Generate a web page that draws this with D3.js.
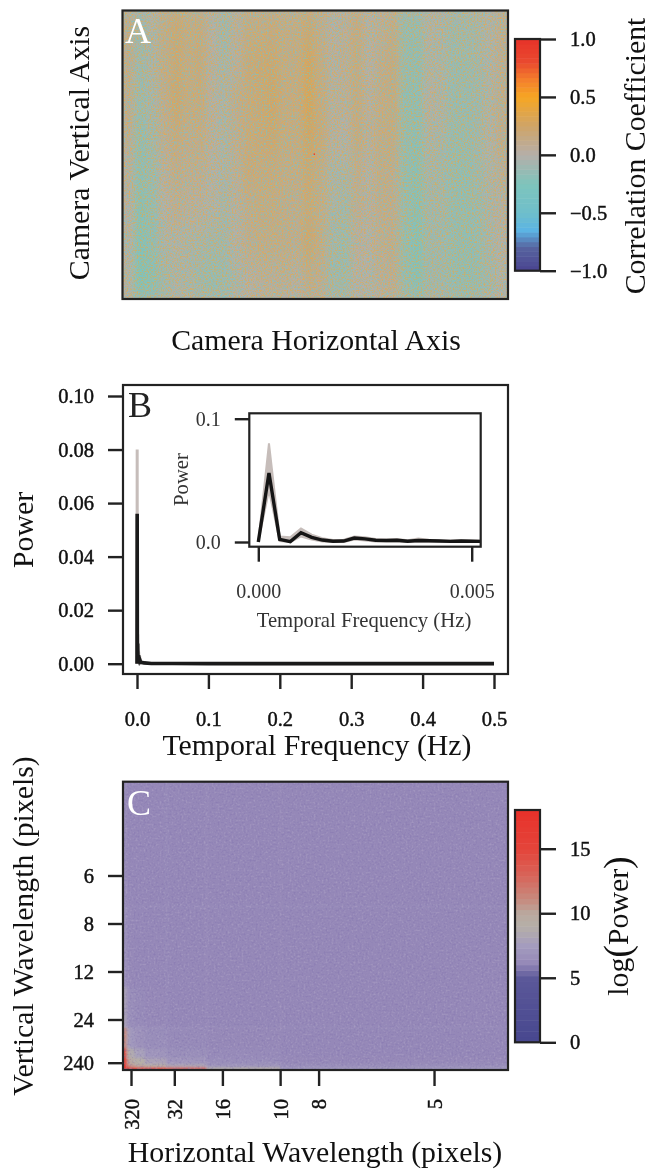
<!DOCTYPE html>
<html><head><meta charset="utf-8">
<style>
html,body{margin:0;padding:0;background:#fff}
svg{display:block;filter:blur(0.35px)}
text{font-family:"Liberation Serif","Times New Roman",serif;fill:#111}
.tick text{font-size:20.5px;stroke:#111;stroke-width:.45px}
.inset .tick text{font-size:20px;fill:#333;stroke:none}
.title{font-size:29.8px}
.inset .title{font-size:20.7px;fill:#333}
</style>
<script src="https://cdn.jsdelivr.net/npm/d3@7/dist/d3.min.js"></script>
</head><body>
<script>
// ---------- Panel A data: correlation (rows top to bottom, columns left to right)
const corrRows = [
[.08,-.08,-.03,.10,.18,.12,.14,.0,-.08,.02,.12,.12,.13,.10,.10,.18,.08,.0,.04,.14,.0,.05,.10,-.14,-.14,-.02,-.04,-.1,-.09,-.07,-.02,.05],
[.08,-.1,-.04,.10,.18,.12,.15,.02,-.06,.03,.16,.18,.2,.12,.12,.26,.12,.02,.04,.12,.0,.08,.13,-.13,-.16,-.03,-.05,-.12,-.12,-.08,-.02,.06],
[.06,-.12,-.06,.08,.2,.12,.14,.02,-.04,.08,.14,.18,.22,.14,.14,.3,.14,.03,.03,.14,.02,.1,.14,-.16,-.17,.02,-.04,-.12,-.13,-.1,-.03,.07],
[.06,-.15,-.08,.06,.14,.08,.1,.02,-.04,.06,.14,.16,.2,.12,.12,.24,.16,.02,.0,.12,.04,.1,.12,-.14,-.18,-.04,-.06,-.13,-.13,-.1,-.01,.08],
[.02,-.17,-.12,.02,.08,.06,.06,.0,-.04,.04,.15,.13,.13,.1,.1,.18,.1,-.04,-.06,.08,.0,.1,.08,-.16,-.2,-.06,-.08,-.14,-.15,-.1,-.03,.04],
[.0,-.2,-.14,.0,.06,.02,.02,-.02,-.06,.02,.08,.12,.12,.1,.08,.16,.1,-.06,-.08,.06,.02,.08,.08,-.14,-.2,-.08,-.08,-.14,-.15,-.12,-.04,.02],
[-.02,-.22,-.16,-.04,-.02,-.04,-.06,-.08,-.08,.0,.08,.1,.1,.1,.08,.2,.1,-.08,-.12,.02,.0,.06,.08,-.15,-.22,-.1,-.1,-.14,-.16,-.14,-.06,.0],
[-.02,-.24,-.2,-.1,-.04,-.06,-.1,-.14,-.12,-.06,.0,.04,.04,.05,.02,.1,.06,-.1,-.12,.0,-.02,.04,.06,-.14,-.22,-.08,-.1,-.14,-.16,-.14,-.08,-.02]
];
const corrPeak = {x:.4975, y:.498, r:1.0};
const corrTicks = [-1,-.5,0,.5,1];
const corrStops = [-1,-.8,-.65,-.5,-.25,0,.25,.5,.65,.8,1];
const corrColors = ["#4A4490","#57639F","#5BB4E4","#6FBFCB","#7EC4BC","#B5AFA9","#CFA468","#F6A623","#F47F2C","#E9492F","#E73329"];

// ---------- Panel B data: power spectrum
const inFreq = [0,.00025,.0005,.00075,.001,.00125,.0015,.00175,.002,.00225,.0025,.00275,.003,.00325,.0035,.00375,.004,.00425,.0045,.00475,.005,.00525];
const inMean = [0,.056,.0022,.0003,.0075,.0038,.0016,.0006,.0008,.0032,.0025,.0014,.0012,.0014,.0006,.0012,.001,.0008,.0005,.0008,.0006,.0005];
const inUpper = [0,.08,.0045,.0038,.011,.006,.003,.0016,.0018,.0045,.0038,.0024,.002,.0024,.0014,.0028,.0018,.0014,.0012,.0014,.0012,.001];
const inLower = [0,.042,.0008,0,.0045,.002,.0005,0,0,.002,.0012,.0005,.0004,.0005,0,.0004,.0002,.0002,0,.0002,0,0];
const tailFreq = [.006,.008,.01,.02,.05,.1,.2,.3,.4,.5];
const tailPower = [.0005,.0004,.0003,.0001,.00005,.00003,.00002,.00001,.00001,.00001];
const powerTicks = [0,.02,.04,.06,.08,.1];
const freqTicks = [0,.1,.2,.3,.4,.5];
const insetYTicks = [0,.1];
const insetXTicks = [0,.005];

// ---------- Panel C data: log power on frequency bins (rows bottom to top)
const binsX = [-.006,.0003,.0022,.0055,.012,.026,.052,.10,.26];
const binsY = [-.006,.0005,.0035,.0087,.017,.035,.07,.14,.26];
const logPower = [
[17,17,16.5,15.5,14.5,13,9,7.2],
[15.5,11.5,10.5,9.8,9.2,8.2,7,6.5],
[15,10.5,9.6,9,8,7.1,6.5,6.2],
[14,9.2,8.6,7.8,7,6.6,6.3,6.1],
[11,8,7.2,6.8,6.5,6.3,6.2,6.1],
[8,6.8,6.5,6.3,6.2,6.1,6.1,6.1],
[6.8,6.3,6.2,6.1,6.1,6.1,6.1,6.1],
[6.5,6.2,6.1,6.1,6.1,6.1,6.1,6.1]
];
const horizWave = [320,32,16,10,8,5];
const vertWave = [6,8,12,24,240];
const logTicks = [0,5,10,15];
const logStops = [0,5,6.1,7.5,9,10,11,13,15,18];
const logColors = ["#47478F","#5B5899","#9588B8","#A49CBE","#B5AFA8","#B9A89E","#C68C80","#D86358","#E4443A","#E8312A"];

// ---------- layout
const svg = d3.select("body").append("svg").attr("width",651).attr("height",1172);
const defs = svg.append("defs");
const frameA = {l:122.5,r:508,t:10.5,b:299};
const frameB = {l:123,r:508,t:385,b:674};
const frameI = {l:249.3,r:480.7,t:413.3,b:546.7};
const frameC = {l:123,r:508,t:781.7,b:1070};
const INK = "#222";

function noiseFilter(id, rgb, k, off, freq, seed){
  const f = defs.append("filter").attr("id",id).attr("x",0).attr("y",0).attr("width",1).attr("height",1)
    .attr("color-interpolation-filters","sRGB");
  f.append("feTurbulence").attr("type","fractalNoise").attr("baseFrequency",freq).attr("numOctaves",2).attr("seed",seed);
  f.append("feColorMatrix").attr("type","matrix")
    .attr("values",`0 0 0 0 ${rgb[0]} 0 0 0 0 ${rgb[1]} 0 0 0 0 ${rgb[2]} 0 ${k} 0 0 ${off}`);
}
function clip(id, fr){
  defs.append("clipPath").attr("id",id).append("rect")
    .attr("x",fr.l).attr("y",fr.t).attr("width",fr.r-fr.l).attr("height",fr.b-fr.t);
}
function frame(g, fr){
  g.append("rect").attr("x",fr.l).attr("y",fr.t).attr("width",fr.r-fr.l).attr("height",fr.b-fr.t)
    .attr("fill","none").attr("stroke",INK).attr("stroke-width",2.2);
}
function styleAxis(sel){
  sel.select(".domain").remove();
  sel.selectAll(".tick line").attr("stroke",INK).attr("stroke-width",2.4);
}
function vTitle(x,y,t,g){ return (g||svg).append("text").attr("class","title").attr("text-anchor","middle")
  .attr("transform",`translate(${x},${y}) rotate(-90)`).text(t); }
function hTitle(x,y,t,g){ return (g||svg).append("text").attr("class","title").attr("text-anchor","middle")
  .attr("x",x).attr("y",y).text(t); }
function panelLetter(x,y,t,c){ svg.append("text").attr("x",x).attr("y",y).attr("font-size",36).style("fill",c).text(t); }
function colorbar(x0,x1,y0,y1,domain,color,ticks,fmt,levels){
  const s = d3.scaleLinear().domain(domain).range([y0,y1]);
  const g = svg.append("g");
  const dv = (domain[1]-domain[0])/levels;
  g.selectAll("rect").data(d3.range(levels)).join("rect")
    .attr("x",x0).attr("width",x1-x0)
    .attr("y",i=>s(domain[0]+(i+1)*dv)).attr("height",i=>s(domain[0]+i*dv)-s(domain[0]+(i+1)*dv)+.5)
    .attr("fill",i=>color(domain[0]+(i+.5)*dv));
  g.append("rect").attr("x",x0).attr("y",y1).attr("width",x1-x0).attr("height",y0-y1)
    .attr("fill","none").attr("stroke",INK).attr("stroke-width",2.2);
  svg.append("g").attr("transform",`translate(${x1},0)`)
    .call(d3.axisRight(s).tickValues(ticks).tickFormat(fmt).tickSize(16).tickPadding(14)).call(styleAxis);
}

// ---------- Panel A
const colorA = d3.scaleLinear().domain(corrStops).range(corrColors).clamp(true);
const xA = d3.scaleBand().domain(d3.range(corrRows[0].length)).range([frameA.l,frameA.r]);
const yA = d3.scaleBand().domain(d3.range(corrRows.length)).range([frameA.t,frameA.b]);
clip("clipA",frameA);
defs.append("filter").attr("id","softA").attr("x","-5%").attr("y","-5%").attr("width","110%").attr("height","110%")
  .append("feGaussianBlur").attr("stdDeviation","3 12");
noiseFilter("nTeal",[.47,.78,.77],4.6,-2.2,.62,3);
noiseFilter("nOrange",[.92,.66,.26],4.6,-2.2,.62,11);
const gA = svg.append("g").attr("clip-path","url(#clipA)");
gA.append("rect").attr("x",frameA.l).attr("y",frameA.t).attr("width",frameA.r-frameA.l).attr("height",frameA.b-frameA.t).attr("fill",colorA(0));
gA.append("g").attr("filter","url(#softA)")
  .selectAll("g").data(corrRows).join("g")
  .selectAll("rect").data((r,j)=>r.map((v,i)=>({v,i,j}))).join("rect")
  .attr("x",d=>xA(d.i)-.5).attr("y",d=>yA(d.j)-.5)
  .attr("width",xA.bandwidth()+1).attr("height",yA.bandwidth()+1)
  .attr("fill",d=>colorA(d.v));
gA.append("rect").attr("x",frameA.l).attr("y",frameA.t).attr("width",frameA.r-frameA.l).attr("height",frameA.b-frameA.t).attr("filter","url(#nTeal)").attr("opacity",.6);
gA.append("rect").attr("x",frameA.l).attr("y",frameA.t).attr("width",frameA.r-frameA.l).attr("height",frameA.b-frameA.t).attr("filter","url(#nOrange)").attr("opacity",.6);
const fxA = d3.scaleLinear().domain([0,1]).range([frameA.l,frameA.r]);
const fyA = d3.scaleLinear().domain([0,1]).range([frameA.t,frameA.b]);
gA.append("rect").attr("x",fxA(corrPeak.x)-.7).attr("y",fyA(corrPeak.y)-.7).attr("width",1.4).attr("height",1.4).attr("fill",colorA(corrPeak.r));
frame(svg,frameA);
panelLetter(125,43,"A","#fff");
colorbar(515,540,270.7,39,[-1,1],colorA,corrTicks,d=>d3.format(".1f")(d).replace("-","\u2212"),48);
vTitle(89,153,"Camera Vertical Axis");
hTitle(316,350,"Camera Horizontal Axis");
vTitle(644.5,156,"Correlation Coefficient");

// ---------- Panel B
const xB = d3.scaleLinear().domain([0,.5]).range([137,494]);
const yB = d3.scaleLinear().domain([0,.1]).range([663.7,396]);
const allFreq = inFreq.concat(tailFreq);
const lineB = d3.line().x(d=>xB(d[0])).y(d=>yB(d[1]));
frame(svg,frameB);
svg.append("path").datum(allFreq.map((f,i)=>[f,i<inUpper.length?inUpper[i]:tailPower[i-inUpper.length]]))
  .attr("d",lineB).attr("fill","none").attr("stroke","#C6BDBA").attr("stroke-width",3);
svg.append("path").datum(allFreq.map((f,i)=>[f,i<inMean.length?inMean[i]:tailPower[i-inMean.length]]))
  .attr("d",lineB).attr("fill","none").attr("stroke","#1a1a1a").attr("stroke-width",3.6).attr("stroke-linejoin","miter");
svg.append("g").attr("transform",`translate(${frameB.l},0)`)
  .call(d3.axisLeft(yB).tickValues(powerTicks).tickFormat(d3.format(".2f")).tickSize(15).tickPadding(14)).call(styleAxis);
svg.append("g").attr("transform",`translate(0,${frameB.b})`)
  .call(d3.axisBottom(xB).tickValues(freqTicks).tickFormat(d3.format(".1f")).tickSize(15).tickPadding(22)).call(styleAxis);
panelLetter(128,417,"B","#222");
vTitle(33,530,"Power");
hTitle(317,755,"Temporal Frequency (Hz)");

// inset
const gI = svg.append("g").attr("class","inset");
const xI = d3.scaleLinear().domain([0,.005]).range([258.3,471.7]);
const yI = d3.scaleLinear().domain([0,.1]).range([542,418.7]);
clip("clipI",frameI);
const plotI = gI.append("g").attr("clip-path","url(#clipI)");
plotI.append("path").datum(inFreq.map((f,i)=>[f,inUpper[i],inLower[i]]))
  .attr("d",d3.area().x(d=>xI(d[0])).y0(d=>yI(d[2])).y1(d=>yI(d[1])))
  .attr("fill","#C6BDBA").attr("stroke","#C6BDBA").attr("stroke-width",2);
plotI.append("path").datum(inFreq.map((f,i)=>[f,inMean[i]]))
  .attr("d",d3.line().x(d=>xI(d[0])).y(d=>yI(d[1])))
  .attr("fill","none").attr("stroke","#151515").attr("stroke-width",3.4);
frame(gI,frameI);
gI.append("g").attr("transform",`translate(${frameI.l},0)`)
  .call(d3.axisLeft(yI).tickValues(insetYTicks).tickFormat(d3.format(".1f")).tickSize(14.5).tickPadding(14)).call(styleAxis);
gI.append("g").attr("transform",`translate(0,${frameI.b})`)
  .call(d3.axisBottom(xI).tickValues(insetXTicks).tickFormat(d3.format(".3f")).tickSize(15).tickPadding(22)).call(styleAxis);
vTitle(188,479.5,"Power",gI);
hTitle(364,627,"Temporal Frequency (Hz)",gI);

// ---------- Panel C
const colorC = d3.scaleLinear().domain(logStops).range(logColors).clamp(true);
const xC = d3.scaleLinear().domain([0,.25]).range([126.2,511]);
const yC = d3.scaleLinear().domain([0,.25]).range([1067.5,779.5]);
clip("clipC",frameC);
defs.append("filter").attr("id","softC").attr("x","-2%").attr("y","-2%").attr("width","104%").attr("height","104%")
  .append("feGaussianBlur").attr("stdDeviation",.9);
noiseFilter("nLight",[.72,.68,.80],3.2,-1.6,.5,5);
noiseFilter("nDark",[.50,.44,.68],3.2,-1.6,.5,9);
const gC = svg.append("g").attr("clip-path","url(#clipC)");
gC.append("g").attr("filter","url(#softC)").selectAll("g").data(logPower).join("g")
  .selectAll("rect").data((r,j)=>r.map((v,i)=>({v,i,j}))).join("rect")
  .attr("x",d=>xC(binsX[d.i])).attr("width",d=>xC(binsX[d.i+1])-xC(binsX[d.i])+.5)
  .attr("y",d=>yC(binsY[d.j+1])).attr("height",d=>yC(binsY[d.j])-yC(binsY[d.j+1])+.5)
  .attr("fill",d=>colorC(d.v));
gC.append("rect").attr("x",frameC.l).attr("y",frameC.t).attr("width",frameC.r-frameC.l).attr("height",frameC.b-frameC.t).attr("filter","url(#nLight)").attr("opacity",.4);
gC.append("rect").attr("x",frameC.l).attr("y",frameC.t).attr("width",frameC.r-frameC.l).attr("height",frameC.b-frameC.t).attr("filter","url(#nDark)").attr("opacity",.4);
frame(svg,frameC);
panelLetter(127,815,"C","#fff");
svg.append("g").attr("transform",`translate(${frameC.l},0)`)
  .call(d3.axisLeft(yC).tickValues(vertWave.map(w=>1/w)).tickFormat(f=>Math.round(1/f)).tickSize(15).tickPadding(14)).call(styleAxis);
svg.append("g").attr("transform",`translate(0,${frameC.b})`)
  .call(d3.axisBottom(xC).tickValues(horizWave.map(w=>1/w)).tickFormat(f=>Math.round(1/f)).tickSize(16)).call(styleAxis)
  .selectAll(".tick text").attr("transform","rotate(-90)").attr("text-anchor","end")
  .attr("x",-29).attr("y",0).attr("dy",".35em");
colorbar(515,540,1042.3,810,[0,18],colorC,logTicks,d=>d,42);
vTitle(33,926,"Vertical Wavelength (pixels)");
hTitle(315,1162,"Horizontal Wavelength (pixels)");
const logT = svg.append("text").attr("class","title").attr("text-anchor","middle")
  .attr("transform","translate(628,926) rotate(-90)");
logT.append("tspan").text("log");
logT.append("tspan").attr("font-size",38).attr("dy",2).text("(");
logT.append("tspan").attr("dy",-2).text("Power");
logT.append("tspan").attr("font-size",38).attr("dy",2).text(")");
</script>
</body></html>
